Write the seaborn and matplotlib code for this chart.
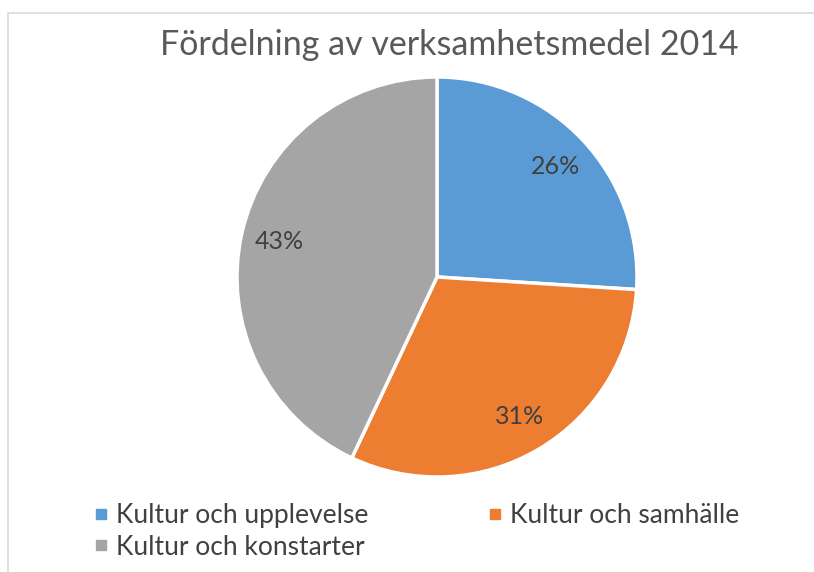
import seaborn as sns
import matplotlib.pyplot as plt
from matplotlib.lines import Line2D
from matplotlib.patches import Rectangle

categories = ['Kultur och upplevelse', 'Kultur och samhälle', 'Kultur och konstarter']
shares = [26, 31, 43]
title = 'Fördelning av verksamhetsmedel 2014'

sns.set_theme(style="white")
plt.rcParams['font.family'] = ['Lato', 'DejaVu Sans']

colors = sns.color_palette(['#5B9BD5', '#ED7D31', '#A5A5A5'])

fig = plt.figure(figsize=(8.14, 5.72), dpi=100)

# ram runt diagrammet (som i Excel)
fig.patches.append(Rectangle((8 / 814, -0.05), 1.1, 1 - 13 / 572 + 0.05,
                             transform=fig.transFigure, fill=False,
                             edgecolor='#D9D9D9', linewidth=1.2))

ax = fig.add_axes([237 / 814, 95 / 572, 400 / 814, 400 / 572])
wedges, texts, autotexts = ax.pie(shares, colors=colors, startangle=90,
                                  counterclock=False, autopct='%1.0f%%',
                                  pctdistance=0.81,
                                  wedgeprops=dict(edgecolor='white', linewidth=2.5),
                                  textprops=dict(color='#404040', fontsize=18))
ax.set_xlim(-1, 1)
ax.set_ylim(-1, 1)

fig.text(449 / 814, 1 - 55 / 572, title, ha='center', va='baseline',
         fontsize=24.5, color='#595959')

# legend radvis: matplotlib fyller kolumnvis, så ordningen byts
order = [0, 2, 1]
handles = [Line2D([], [], marker='s', linestyle='', markersize=6.5,
                  markerfacecolor=colors[i], markeredgecolor=colors[i]) for i in order]
labels = [categories[i] for i in order]
leg = fig.legend(handles, labels, ncol=2, loc='upper left',
                 bbox_to_anchor=(93 / 814, 1 - 503 / 572), frameon=False,
                 fontsize=19, handlelength=0.6, handletextpad=0.27,
                 columnspacing=4.5, labelspacing=0.25, borderpad=0,
                 borderaxespad=0)
for t in leg.get_texts():
    t.set_color('#404040')

plt.savefig('out.png', dpi=100)
